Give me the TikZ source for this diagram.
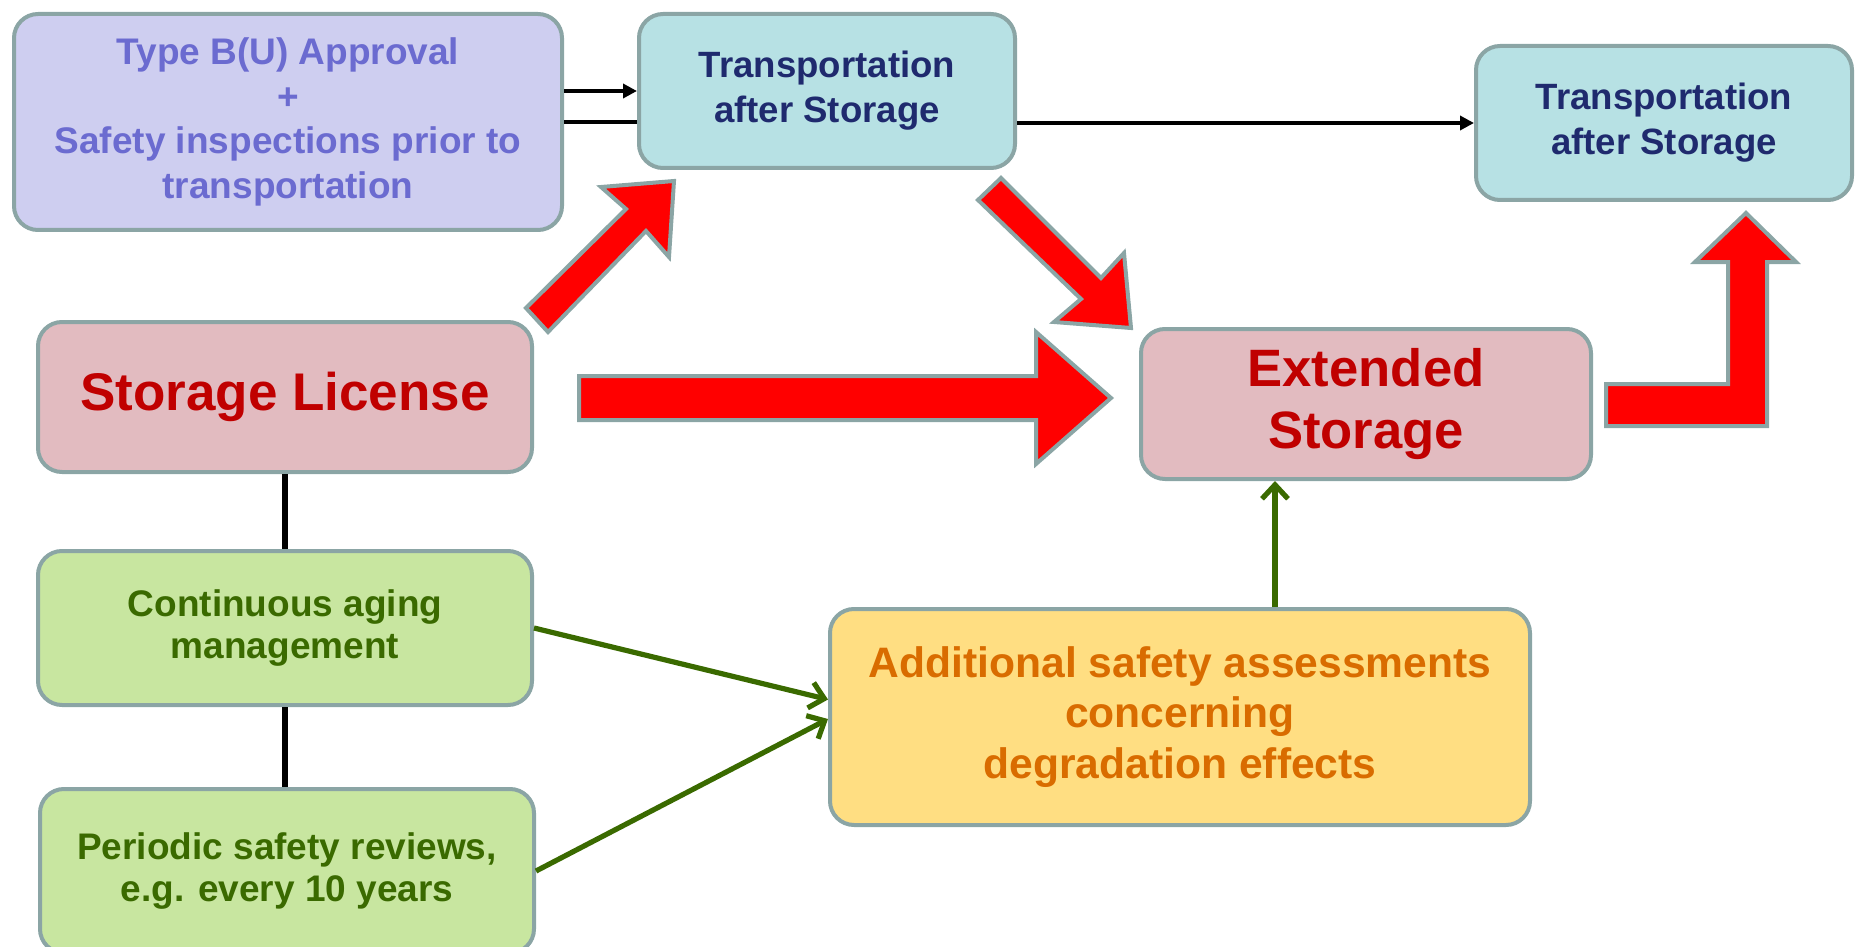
\documentclass[tikz,border=0pt]{standalone}
\usepackage{fontspec}
\setmainfont{Liberation Sans}
\usetikzlibrary{arrows.meta, calc}
\definecolor{edge}{HTML}{8BA5A5}
\definecolor{lavender}{HTML}{CECEF0}
\definecolor{lavtext}{HTML}{6B6BD0}
\definecolor{cyanfill}{HTML}{B7E1E4}
\definecolor{navy}{HTML}{1F2A6E}
\definecolor{pinkfill}{HTML}{E2BBC0}
\definecolor{darkred}{HTML}{C00000}
\definecolor{greenfill}{HTML}{C8E6A0}
\definecolor{darkgreen}{HTML}{3A6A00}
\definecolor{yellowfill}{HTML}{FFDE82}
\definecolor{orangetext}{HTML}{D96C00}

\begin{document}
\begin{tikzpicture}[x=0.5pt, y=-0.5pt,
  panel/.style={draw=edge, line width=2pt, rounded corners=12pt, inner sep=0pt, align=center},
  transbox/.style={panel, fill=cyanfill, text=navy, minimum width=188pt, minimum height=77pt,
    font=\fontsize{18.3pt}{22.5pt}\selectfont\bfseries},
  greenbox/.style={panel, fill=greenfill, text=darkgreen, minimum width=247pt, minimum height=77pt,
    font=\fontsize{18.5pt}{20.8pt}\selectfont\bfseries},
  bigarrow/.style={fill=red, draw=edge, line width=2pt, line join=miter},
  link/.style={line width=2.8pt},
  pointer/.style={line width=2.2pt, -{Triangle[length=7pt,width=7pt]}},
  feed/.style={darkgreen, line width=2.6pt, -{Straight Barb[length=7pt,width=13pt]}}]
  \useasboundingbox (0,0) rectangle (1860,947);
  % Boxes
  \node[panel, fill=lavender, text=lavtext, minimum width=274pt, minimum height=108pt,
    font=\fontsize{18.5pt}{22.4pt}\selectfont\bfseries] (typeb) at (288,122)
    {Type B(U) Approval\\+\\Safety inspections prior to\\transportation};
  \node[transbox] (trans1) at (827,91) {Transportation\\after Storage};
  \node[transbox] (trans2) at (1664,123) {Transportation\\after Storage};
  \node[panel, fill=pinkfill, text=darkred, minimum width=247pt, minimum height=75pt,
    font=\fontsize{26.5pt}{31.4pt}\selectfont\bfseries] (license) at (285,397) {Storage License};
  \node[panel, fill=pinkfill, text=darkred, minimum width=225pt, minimum height=75pt,
    font=\fontsize{26.3pt}{31.4pt}\selectfont\bfseries] (extended) at (1366,404) {Extended\\Storage};
  \node[greenbox] (aging) at (285,628) {Continuous aging\\management};
  \node[greenbox, minimum height=82pt] (periodic) at (287,871) {Periodic safety reviews,\\e.g. every 10 years};
  \node[panel, fill=yellowfill, text=orangetext, minimum width=350pt, minimum height=108pt,
    font=\fontsize{21.3pt}{25.2pt}\selectfont\bfseries] (additional) at (1180,717)
    {Additional safety assessments\\concerning\\degradation effects};
  % Red block arrows
  \draw[bigarrow] (579,376) -- (1036,376) -- (1036,332) -- (1111,398) -- (1036,464)
    -- (1036,420) -- (579,420) -- cycle;
  \draw[bigarrow] (526,308) -- (626,209) -- (601,187) -- (674,181) -- (669,257)
    -- (646,231) -- (548,332) -- cycle;
  \draw[bigarrow] (1001,178) -- (1101,278) -- (1124,253) -- (1131,328) -- (1054,322)
    -- (1081,299) -- (978,200) -- cycle;
  \draw[bigarrow] (1606,384) -- (1728,384) -- (1728,262) -- (1695,262) -- (1746,213)
    -- (1796,262) -- (1767,262) -- (1767,426) -- (1606,426) -- cycle;
  % Black connectors
  \draw[pointer] (typeb.east |- trans1.west) -- (trans1.west);
  \draw[line width=2.2pt] (typeb.east) -- (typeb.east -| trans1.west);
  \draw[pointer] (trans1.east |- trans2.west) -- (trans2.west);
  \draw[link] (license.south) -- (license.south |- aging.north);
  \draw[link] (aging.south) -- (aging.south |- periodic.north);
  % Green connectors
  \draw[feed] (aging.east) -- ([yshift=8.75pt]additional.west);
  \draw[feed] (periodic.east) -- ([yshift=-1pt]additional.west);
  \coordinate (up) at ([xshift=47.5pt]additional.north);
  \draw[feed] (up) -- (up |- extended.south);
\end{tikzpicture}
\end{document}
